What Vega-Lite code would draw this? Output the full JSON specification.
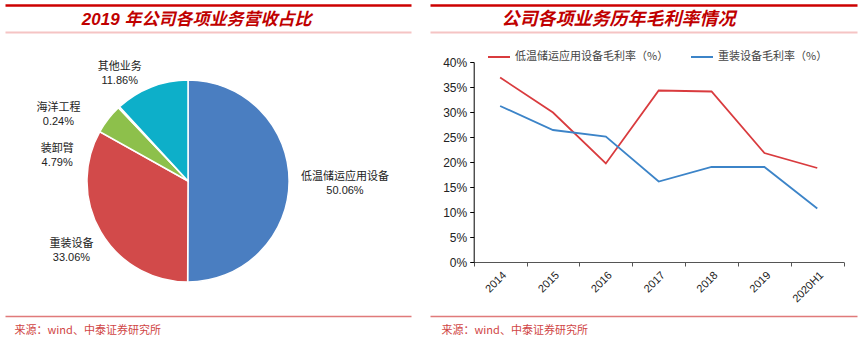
{
  "$schema": "https://vega.github.io/schema/vega-lite/v6.json",
  "background": "white",
  "padding": 5,
  "spacing": 19,
  "config": {"view": {"stroke": null}},
  "resolve": {"scale": {"color": "independent"}, "legend": {"color": "independent"}},
  "datasets": {
    "pie": [
      {"name": "低温储运应用设备", "share": 0.5006, "rank": 1},
      {"name": "重装设备", "share": 0.3306, "rank": 2},
      {"name": "装卸臂", "share": 0.0479, "rank": 3},
      {"name": "海洋工程", "share": 0.0024, "rank": 4},
      {"name": "其他业务", "share": 0.1186, "rank": 5}
    ],
    "lines": [
      {"year": "2014", "series": "低温储运应用设备毛利率（%）", "value": 0.369},
      {"year": "2015", "series": "低温储运应用设备毛利率（%）", "value": 0.299},
      {"year": "2016", "series": "低温储运应用设备毛利率（%）", "value": 0.197},
      {"year": "2017", "series": "低温储运应用设备毛利率（%）", "value": 0.343},
      {"year": "2018", "series": "低温储运应用设备毛利率（%）", "value": 0.341},
      {"year": "2019", "series": "低温储运应用设备毛利率（%）", "value": 0.218},
      {"year": "2020H1", "series": "低温储运应用设备毛利率（%）", "value": 0.188},
      {"year": "2014", "series": "重装设备毛利率（%）", "value": 0.312},
      {"year": "2015", "series": "重装设备毛利率（%）", "value": 0.264},
      {"year": "2016", "series": "重装设备毛利率（%）", "value": 0.251},
      {"year": "2017", "series": "重装设备毛利率（%）", "value": 0.161},
      {"year": "2018", "series": "重装设备毛利率（%）", "value": 0.190},
      {"year": "2019", "series": "重装设备毛利率（%）", "value": 0.190},
      {"year": "2020H1", "series": "重装设备毛利率（%）", "value": 0.107}
    ]
  },
  "hconcat": [
    {
      "bounds": "flush",
      "spacing": 0,
      "vconcat": [
        {
          "width": 406, "height": 27,
          "data": {"values": [{"t": "2019 年公司各项业务营收占比"}]},
          "mark": {"type": "text", "font": "Liberation Sans, Noto Sans CJK SC", "fontSize": 17, "fontStyle": "italic", "fontWeight": "bold", "color": "#c00000", "baseline": "middle", "dy": 1},
          "encoding": {
            "text": {"field": "t"},
            "x": {"datum": 0.472, "type": "quantitative", "scale": {"domain": [0, 1]}, "axis": null},
            "y": {"datum": 0.5, "type": "quantitative", "scale": {"domain": [0, 1]},
              "axis": {"values": [0, 1], "grid": true, "domain": false, "ticks": false, "labels": false, "title": null,
                "gridColor": {"condition": {"test": "datum.value === 1", "value": "#cc0000"}, "value": "#f5c4c4"},
                "gridWidth": {"condition": {"test": "datum.value === 1", "value": 2.5}, "value": 2}}}
          }
        },
        {
          "width": 366, "height": 298,
          "data": {"name": "pie"},
          "transform": [{"calculate": "[datum.name, format(datum.share, '.2%')]", "as": "label"}],
          "encoding": {
            "theta": {"field": "share", "type": "quantitative", "stack": true},
            "order": {"field": "rank", "type": "quantitative"}
          },
          "layer": [
            {
              "mark": {"type": "arc", "outerRadius": 101, "stroke": "white", "strokeWidth": 1.5},
              "encoding": {
                "color": {"field": "name", "type": "nominal",
                  "scale": {"domain": ["低温储运应用设备", "重装设备", "装卸臂", "海洋工程", "其他业务"], "range": ["#4a7ec1", "#d24a4a", "#8dc04b", "#7f7f7f", "#0dafc9"]},
                  "legend": null}
              }
            },
            {
              "mark": {"type": "text", "radius": 157, "dy": -4, "font": "Liberation Sans, Noto Sans CJK SC", "fontSize": 11, "lineHeight": 14, "color": "#222", "align": "center", "baseline": "middle"},
              "encoding": {"text": {"condition": {"test": "datum.name === '低温储运应用设备'", "field": "label", "type": "nominal"}, "value": ""}}
            },
            {
              "mark": {"type": "text", "radius": 135, "dy": -5, "font": "Liberation Sans, Noto Sans CJK SC", "fontSize": 11, "lineHeight": 14, "color": "#222", "align": "center", "baseline": "middle"},
              "encoding": {"text": {"condition": {"test": "datum.name === '重装设备'", "field": "label", "type": "nominal"}, "value": ""}}
            },
            {
              "mark": {"type": "text", "radius": 134, "dx": -25, "dy": 50, "font": "Liberation Sans, Noto Sans CJK SC", "fontSize": 11, "lineHeight": 14, "color": "#222", "align": "center", "baseline": "middle"},
              "encoding": {"text": {"condition": {"test": "datum.name === '装卸臂'", "field": "label", "type": "nominal"}, "value": ""}}
            },
            {
              "mark": {"type": "text", "radius": 134, "dx": -38, "dy": 25, "font": "Liberation Sans, Noto Sans CJK SC", "fontSize": 11, "lineHeight": 14, "color": "#222", "align": "center", "baseline": "middle"},
              "encoding": {"text": {"condition": {"test": "datum.name === '海洋工程'", "field": "label", "type": "nominal"}, "value": ""}}
            },
            {
              "mark": {"type": "text", "radius": 130, "dx": -21, "dy": 7, "font": "Liberation Sans, Noto Sans CJK SC", "fontSize": 11, "lineHeight": 14, "color": "#222", "align": "center", "baseline": "middle"},
              "encoding": {"text": {"condition": {"test": "datum.name === '其他业务'", "field": "label", "type": "nominal"}, "value": ""}}
            }
          ]
        },
        {
          "width": 406, "height": 1,
          "data": {"values": [{"s": 0}]},
          "mark": {"type": "point", "opacity": 0, "size": 0},
          "encoding": {
            "x": {"datum": 0, "type": "quantitative", "scale": {"domain": [0, 1]},
              "axis": {"orient": "top", "offset": 14, "domainColor": "#e07a7a", "domainWidth": 1.5, "ticks": false, "labels": false, "grid": false,
                "title": "来源：wind、中泰证券研究所", "titleX": 9, "titleY": 14, "titleAlign": "left", "titleAnchor": null, "titleBaseline": "middle",
                "titleColor": "#d04545", "titleFontSize": 11, "titleFontWeight": "normal", "titleFont": "Noto Sans CJK SC"}}
          }
        }
      ]
    },
    {
      "bounds": "flush",
      "spacing": 30,
      "vconcat": [
        {
          "width": 427, "height": 27,
          "data": {"values": [{"t": "公司各项业务历年毛利率情况"}]},
          "mark": {"type": "text", "font": "Liberation Sans, Noto Sans CJK SC", "fontSize": 18, "fontStyle": "italic", "fontWeight": "bold", "color": "#c00000", "baseline": "middle", "dy": 1},
          "encoding": {
            "text": {"field": "t"},
            "x": {"datum": 0.4415, "type": "quantitative", "scale": {"domain": [0, 1]}, "axis": null},
            "y": {"datum": 0.5, "type": "quantitative", "scale": {"domain": [0, 1]},
              "axis": {"values": [0, 1], "grid": true, "domain": false, "ticks": false, "labels": false, "title": null,
                "gridColor": {"condition": {"test": "datum.value === 1", "value": "#cc0000"}, "value": "#f5c4c4"},
                "gridWidth": {"condition": {"test": "datum.value === 1", "value": 2.5}, "value": 2}}}
          }
        },
        {
          "width": 413.7, "height": 200,
          "data": {"name": "lines"},
          "mark": {"type": "line", "strokeWidth": 1.8},
          "encoding": {
            "x": {"field": "year", "type": "ordinal", "bandPosition": 0.5,
              "scale": {"type": "band", "paddingInner": 0, "paddingOuter": 0, "range": [43.7, 413.7]},
              "axis": {"title": null, "tickBand": "extent", "labelAngle": -45, "labelAlign": "right", "labelBaseline": "top", "labelPadding": 3,
                "domainColor": "#555", "tickColor": "#555", "tickSize": 4, "labelFontSize": 11, "labelFont": "Liberation Sans", "labelColor": "#222", "grid": false}},
            "y": {"field": "value", "type": "quantitative", "scale": {"domain": [0, 0.4]},
              "axis": {"title": null, "offset": -43.7, "values": [0, 0.05, 0.1, 0.15, 0.2, 0.25, 0.3, 0.35, 0.4], "format": ".0%", "grid": false,
                "domainColor": "#000", "tickColor": "#000", "tickSize": 4, "labelFontSize": 12, "labelFont": "Liberation Sans", "labelColor": "#222", "labelPadding": 3}},
            "color": {"field": "series", "type": "nominal",
              "scale": {"domain": ["低温储运应用设备毛利率（%）", "重装设备毛利率（%）"], "range": ["#d93b3e", "#3c84c8"]},
              "legend": {"orient": "none", "legendX": 57, "legendY": 40, "direction": "horizontal", "title": null, "symbolType": "stroke", "symbolSize": 484, "symbolStrokeWidth": 2,
                "labelFontSize": 11, "labelFont": "Noto Sans CJK SC", "labelColor": "#444", "columnPadding": 18, "labelOffset": 4, "padding": 0}}
          }
        },
        {
          "width": 427, "height": 1,
          "data": {"values": [{"s": 0}]},
          "mark": {"type": "point", "opacity": 0, "size": 0},
          "encoding": {
            "x": {"datum": 0, "type": "quantitative", "scale": {"domain": [0, 1]},
              "axis": {"orient": "top", "offset": -24, "domainColor": "#e07a7a", "domainWidth": 1.5, "ticks": false, "labels": false, "grid": false,
                "title": "来源：wind、中泰证券研究所", "titleX": 11, "titleY": 14, "titleAlign": "left", "titleAnchor": null, "titleBaseline": "middle",
                "titleColor": "#d04545", "titleFontSize": 11, "titleFontWeight": "normal", "titleFont": "Noto Sans CJK SC"}}
          }
        }
      ]
    }
  ]
}
